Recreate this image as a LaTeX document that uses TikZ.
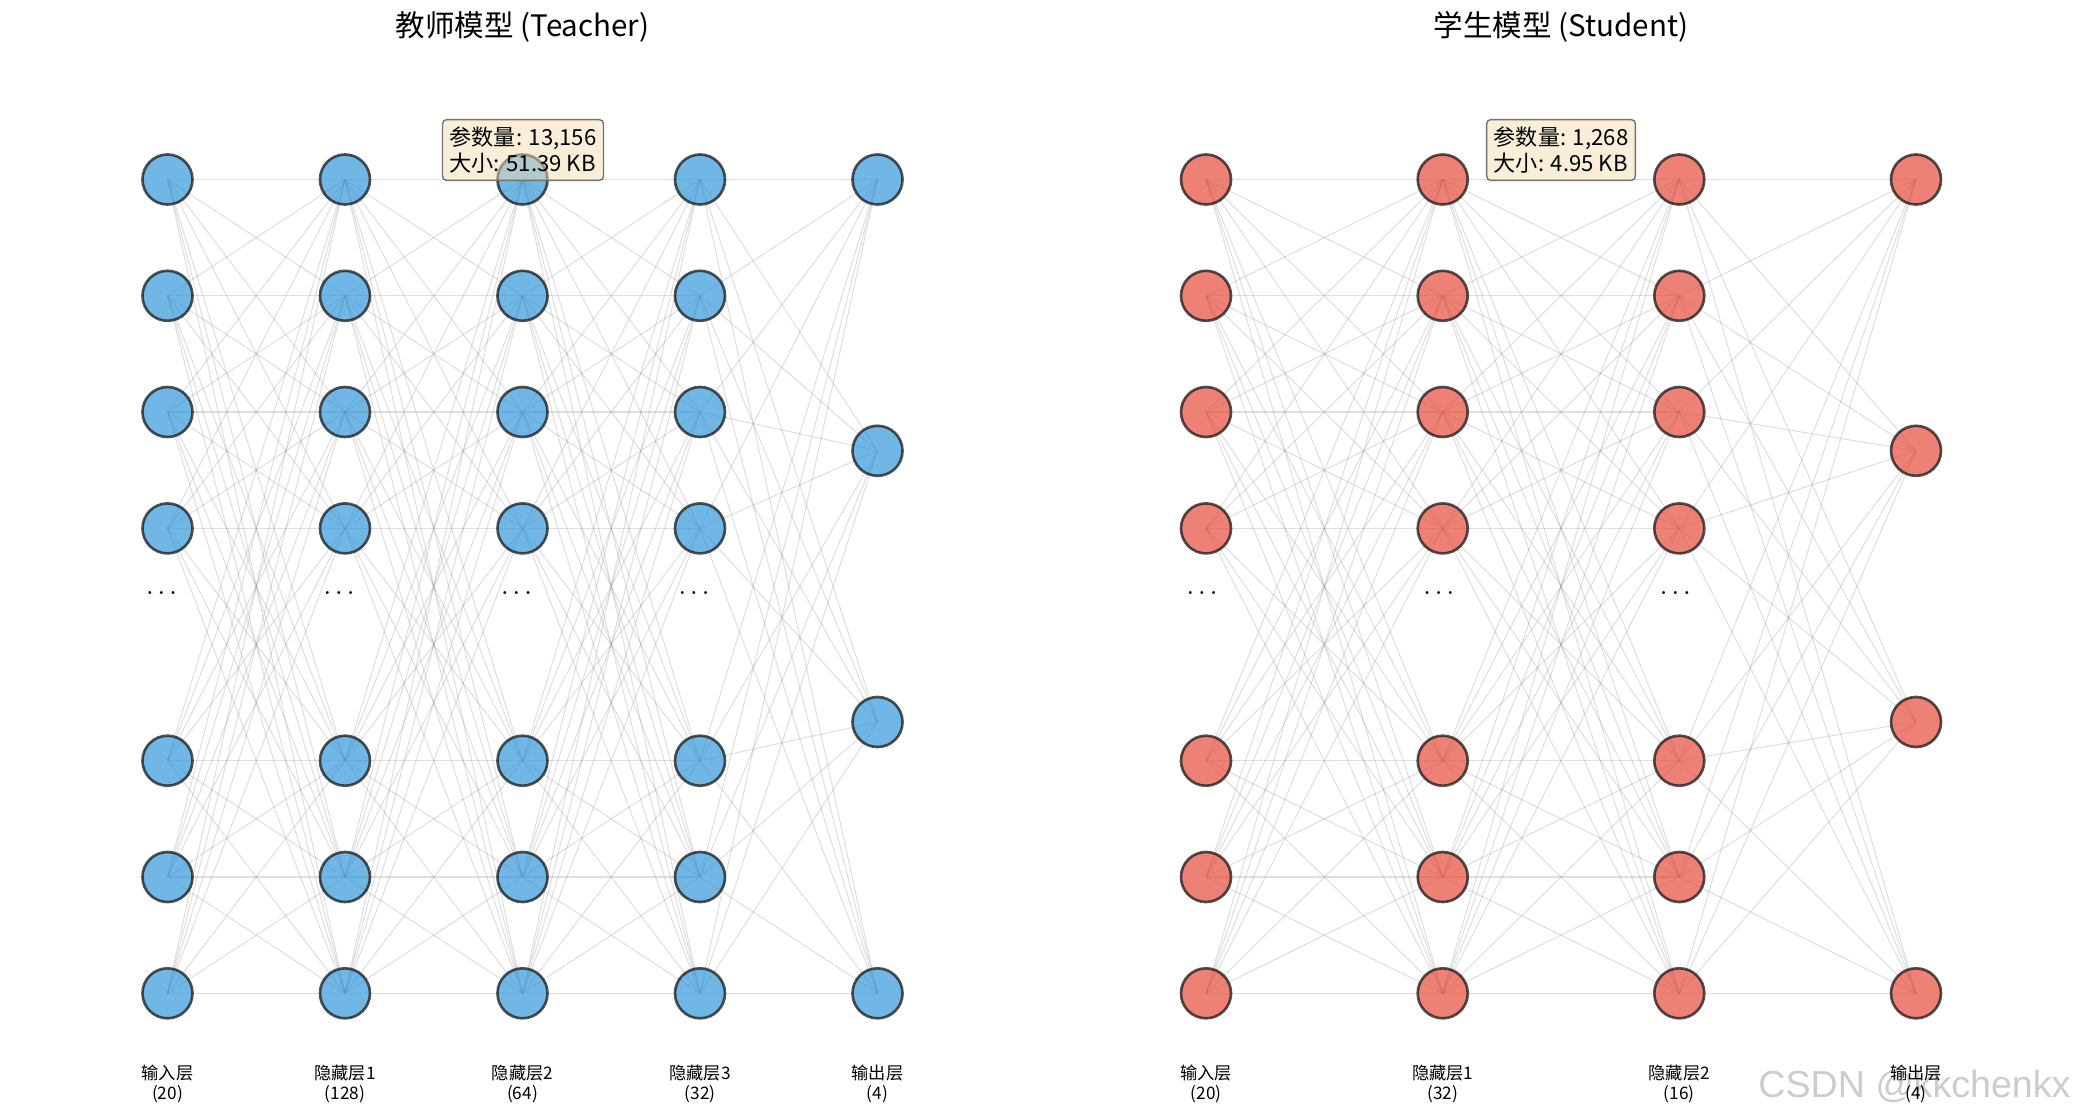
\documentclass[tikz,border=0pt]{standalone}
\usepackage{fontspec}
\setmainfont{Noto Sans CJK SC}
\newfontfamily\wmfont{Liberation Sans}
\usetikzlibrary{backgrounds}
\definecolor{tblue}{HTML}{3498DB}
\definecolor{sred}{HTML}{E74C3C}
\definecolor{wheat}{RGB}{245,222,179}

\begin{document}
\begin{tikzpicture}[x=0.01cm,y=-0.01cm,
  neuron/.style={circle,minimum size=0.5cm,inner sep=0pt,line width=0.75pt,draw=black!90,draw opacity=0.75,fill opacity=0.7},
  tneuron/.style={neuron,fill=tblue},
  sneuron/.style={neuron,fill=sred},
  link/.style={draw=gray,draw opacity=0.25,line width=0.3pt},
  title/.style={font=\fontsize{8.4}{10}\selectfont},
  info/.style={draw=black!55,line width=0.4pt,rounded corners=1.2pt,fill=wheat,fill opacity=0.5,text opacity=1,align=left,inner sep=2pt,font=\fontsize{6.3}{6.1}\selectfont},
  layerlabel/.style={align=center,font=\fontsize{4.9}{5.7}\selectfont},
  dots/.style={anchor=base,font=\ttfamily\fontsize{6.2}{6.2}\selectfont}]
\useasboundingbox (0,0) rectangle (2085,1118);

\node[title] (ttitle) at (522.5,27) {教师模型 (Teacher)};
\node[title] (stitle) at (1561,27) {学生模型 (Student)};

\foreach \c/\x in {0/167.5,1/345,2/522.5,3/700}{
  \foreach \r/\y in {0/179.5,1/295.8,2/412.0,3/528.4,4/760.7,5/877.0,6/993.3}
    \node[tneuron] (t\c-\r) at (\x,\y) {};
  \node[dots] (tdots\c) at (\x-6,594) {...};
}
\foreach \r/\y in {0/179.5,1/450.8,2/722.0,3/993.3}
  \node[tneuron] (t4-\r) at (877.5,\y) {};

\foreach \c/\x in {0/1206,1/1442.7,2/1679.3}{
  \foreach \r/\y in {0/179.5,1/295.8,2/412.0,3/528.4,4/760.7,5/877.0,6/993.3}
    \node[sneuron] (s\c-\r) at (\x,\y) {};
  \node[dots] (sdots\c) at (\x-4,594) {...};
}
\foreach \r/\y in {0/179.5,1/450.8,2/722.0,3/993.3}
  \node[sneuron] (s3-\r) at (1916,\y) {};

\begin{pgfonlayer}{background}
\foreach \c [evaluate=\c as \n using int(\c+1)] in {0,1,2}
  \foreach \i in {0,...,6}
    \foreach \j in {0,...,6}
      \draw[link] (t\c-\i.center) -- (t\n-\j.center);
\foreach \i in {0,...,6}
  \foreach \j in {0,...,3}
    \draw[link] (t3-\i.center) -- (t4-\j.center);
\foreach \c [evaluate=\c as \n using int(\c+1)] in {0,1}
  \foreach \i in {0,...,6}
    \foreach \j in {0,...,6}
      \draw[link] (s\c-\i.center) -- (s\n-\j.center);
\foreach \i in {0,...,6}
  \foreach \j in {0,...,3}
    \draw[link] (s2-\i.center) -- (s3-\j.center);
\end{pgfonlayer}

\node[info] (tinfo) at (523,150) {参数量: 13,156\\大小: 51.39 KB};
\node[info] (sinfo) at (1561,150) {参数量: 1,268\\大小: 4.95 KB};

\node[layerlabel] (tlab0) at (167.5,1084) {输入层\\(20)};
\node[layerlabel] (tlab1) at (345,1084) {隐藏层1\\(128)};
\node[layerlabel] (tlab2) at (522.5,1084) {隐藏层2\\(64)};
\node[layerlabel] (tlab3) at (700,1084) {隐藏层3\\(32)};
\node[layerlabel] (tlab4) at (877.5,1084) {输出层\\(4)};
\node[layerlabel] (slab0) at (1206,1084) {输入层\\(20)};
\node[layerlabel] (slab1) at (1442.7,1084) {隐藏层1\\(32)};
\node[layerlabel] (slab2) at (1679.3,1084) {隐藏层2\\(16)};
\node[layerlabel] (slab3) at (1916,1084) {输出层\\(4)};

\node[anchor=east,font=\wmfont\fontsize{10.7}{12}\selectfont,text=black,text opacity=0.2] (mark) at (2083,1086) {CSDN @kkchenkx};
\end{tikzpicture}
\end{document}
